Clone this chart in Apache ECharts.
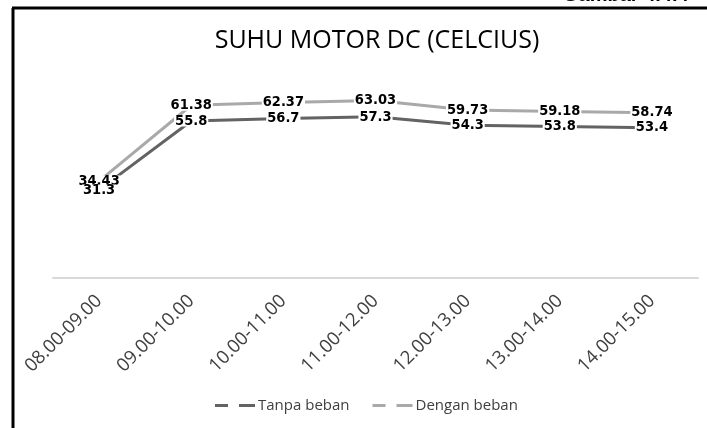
<!DOCTYPE html>
<html>
<head>
<meta charset="utf-8">
<script src="https://cdn.jsdelivr.net/npm/echarts@6/dist/echarts.min.js"></script>
<style>html,body{margin:0;padding:0;background:#fff}#c{width:707px;height:428px}</style>
</head>
<body>
<div id="c"></div>
<script>
var categories = ['08.00-09.00','09.00-10.00','10.00-11.00','11.00-12.00','12.00-13.00','13.00-14.00','14.00-15.00'];
var tanpaBeban = [31.3, 55.8, 56.7, 57.3, 54.3, 53.8, 53.4];
var denganBeban = [34.43, 61.38, 62.37, 63.03, 59.73, 59.18, 58.74];
var seriesNames = ['Tanpa beban', 'Dengan beban'];

var chart = echarts.init(document.getElementById('c'), null, {renderer: 'canvas'});
var labelStyle = {
  show: true,
  position: 'inside',
  color: '#000',
  fontFamily: 'DejaVu Sans Condensed',
  fontWeight: 'bold',
  fontSize: 14.5,
  lineHeight: 11,
  backgroundColor: '#fff',
  padding: [0, 1]
};
function lineSeries(name, data, color, z) {
  return {
    name: name, type: 'line', data: data,
    symbol: 'none',
    lineStyle: {color: color, width: 3},
    itemStyle: {color: color},
    z: z
  };
}
function labelSeries(name, data, z) {
  return {
    name: name, type: 'line', data: data,
    symbol: 'circle', symbolSize: 0, silent: true,
    lineStyle: {opacity: 0, width: 0},
    itemStyle: {opacity: 1, color: '#000'},
    label: labelStyle,
    z: z
  };
}
var legendIcon = 'path://M0,0H13V3H0Z M24,0H40V3H24Z';
chart.setOption({
  animation: false,
  backgroundColor: '#fff',
  title: {
    text: 'SUHU MOTOR DC (CELCIUS)',
    left: 372,
    top: 23,
    textAlign: 'center',
    textStyle: {fontFamily: 'Open Sans', fontWeight: 'normal', fontSize: 25, color: '#000'}
  },
  graphic: [
    {type: 'line', shape: {x1: 13, y1: 8, x2: 13, y2: 428}, style: {stroke: '#000', lineWidth: 3}},
    {type: 'line', shape: {x1: 12, y1: 8, x2: 707, y2: 8}, style: {stroke: '#000', lineWidth: 3}},
    {type: 'text', left: 563, top: -15, style: {text: 'Gambar 4.4.4', fontFamily: 'Liberation Sans', fontWeight: 'bold', fontSize: 20, fill: '#000'}}
  ],
  legend: {
    bottom: 10,
    left: 210,
    itemWidth: 40,
    itemHeight: 3,
    itemGap: 23,
    data: [
      {name: seriesNames[0], icon: legendIcon},
      {name: seriesNames[1], icon: legendIcon}
    ],
    textStyle: {fontFamily: 'Open Sans', fontSize: 15, color: '#404040', padding: [0, 0, 0, -2]}
  },
  grid: {left: 53, right: 9, top: 81, bottom: 150, containLabel: false},
  xAxis: {
    type: 'category',
    data: categories,
    boundaryGap: true,
    axisLine: {lineStyle: {color: '#d9d9d9', width: 2}},
    axisTick: {show: false},
    axisLabel: {rotate: 45, margin: 20, fontFamily: 'Open Sans', fontSize: 18.5, color: '#404040', interval: 0}
  },
  yAxis: {
    type: 'value',
    min: 0,
    max: 70,
    interval: 10,
    show: false,
    splitLine: {show: false}
  },
  series: [
    lineSeries(seriesNames[0], tanpaBeban, '#636363', 2),
    lineSeries(seriesNames[1], denganBeban, '#a9a9a9', 2),
    labelSeries('lblDengan', denganBeban, 3),
    labelSeries('lblTanpa', tanpaBeban, 4)
  ]
});
</script>
</body>
</html>
